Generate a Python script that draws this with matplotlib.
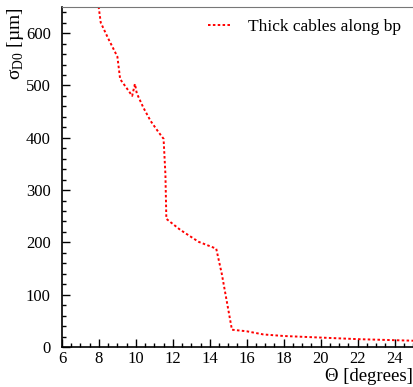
import matplotlib
matplotlib.use("Agg")
import matplotlib.pyplot as plt
from matplotlib.ticker import MultipleLocator

theta = [7.95, 8.1, 8.5, 9.0, 9.15, 9.5, 9.8, 9.95, 10.05, 10.4, 10.8, 11.2, 11.5, 11.6,
         11.65, 12.4, 13.4, 14.35, 14.65, 15.2, 16.0, 16.9, 18.0, 20.0, 22.0, 24.0, 25.0]
sigma = [660, 620, 590, 555, 512, 495, 480, 503, 485, 458, 432, 412, 398, 330,
         245, 224, 201, 188, 140, 33, 30, 24, 21, 18, 15, 13, 12]
label = "Thick cables along bp"

plt.rcParams['font.family'] = ['Liberation Serif', 'DejaVu Serif']
plt.rcParams['mathtext.fontset'] = 'custom'
plt.rcParams['mathtext.rm'] = 'Liberation Serif'

fig = plt.figure(figsize=(4.13, 3.87), dpi=100)
ax = fig.add_axes([0.150, 0.1034, 0.85, 0.8786])
ax.plot(theta, sigma, color='red', linestyle=(0, (1.3, 1.2)), linewidth=1.4, label=label)

ax.set_xlim(6, 25)
ax.set_ylim(0, 650)
ax.xaxis.set_major_locator(MultipleLocator(2))
ax.xaxis.set_minor_locator(MultipleLocator(0.5))
ax.yaxis.set_major_locator(MultipleLocator(100))
ax.yaxis.set_minor_locator(MultipleLocator(20))
ax.tick_params(which='both', direction='in', labelsize=12, top=False, right=False)
ax.tick_params(which='major', length=6, width=1)
ax.tick_params(which='minor', length=3, width=1)
ax.tick_params(axis='y', pad=8)
ax.tick_params(axis='x', pad=3)

ax.spines['right'].set_visible(False)
ax.spines['top'].set_color('#777777')
ax.spines['left'].set_linewidth(1.2)
ax.spines['bottom'].set_linewidth(1.2)

fig.text(0.999, 0.004, "Θ [degrees]", ha='right', va='bottom', fontsize=13.5)
fig.text(0.012, 0.982, r"σ$_{\mathrm{D0}}$ [µm]", ha='left', va='top', rotation=90, fontsize=14)

ax.legend(loc='upper right', frameon=False, fontsize=12.5, handlelength=1.3,
          borderaxespad=0.3, handletextpad=1.0)

fig.savefig("out.png", dpi=100)
